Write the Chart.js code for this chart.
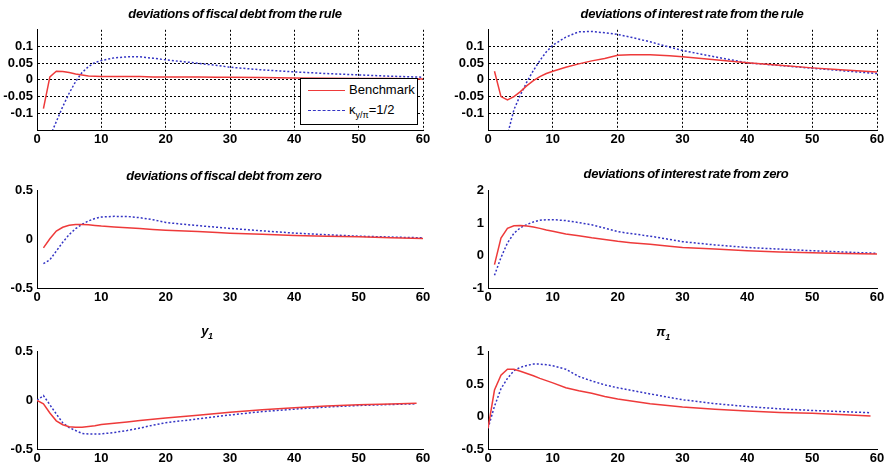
<!DOCTYPE html>
<html>
<head>
<meta charset="utf-8">
<script src="https://cdn.jsdelivr.net/npm/chart.js@4.4.1/dist/chart.umd.min.js"></script>
<style>
  body { margin: 0; background: #fff; }
  #page { position: relative; width: 887px; height: 471px; overflow: hidden; background: #fff; }
  canvas { position: absolute; }
  .title {
    position: absolute; transform: translate(-50%, -50%); white-space: nowrap;
    font-family: "Liberation Sans", Arial, sans-serif; font-size: 13px;
    font-weight: bold; font-style: italic; color: #000; letter-spacing: -0.3px; word-spacing: -1px;
  }
  .title sub { font-size: 9px; }
  #legend {
    position: absolute; left: 300px; top: 78px; width: 116px; height: 45px;
    background: #fff; border: 1px solid #000;
    font-family: "Liberation Sans", Arial, sans-serif; font-size: 13px; color: #000;
  }
  .row { position: absolute; left: 0; height: 16px; width: 116px; }
  .swatch { position: absolute; left: 7px; top: 8px; width: 37px; height: 0; }
  .row span.txt { position: absolute; left: 48px; top: 0px; }
  .row sub { font-size: 9px; }
</style>
</head>
<body>
<div id="page">
  <div class="title" style="left:235px; top:13px;">deviations of fiscal debt from the rule</div>
  <div class="title" style="left:692px; top:13px;">deviations of interest rate from the rule</div>
  <div class="title" style="left:224px; top:175px;">deviations of fiscal debt from zero</div>
  <div class="title" style="left:686px; top:173px;">deviations of interest rate from zero</div>
  <div class="title" style="left:207px; top:332px;">y<sub>1</sub></div>
  <div class="title" style="left:663px; top:333px;">π<sub>1</sub></div>
</div>
<script>
// periods (x axis)
const periodsTop = [1, 2, 3, 4, 5, 6, 7, 8, 9, 10, 12, 14, 16, 18, 20, 22, 25, 28, 30, 35, 40, 45, 50, 55, 60];
const periodsBottom = [0, 1, 2, 3, 4, 5, 6, 7, 8, 9, 10, 12, 14, 16, 18, 20, 25, 30, 35, 40, 45, 50, 55, 59];

// deviations of fiscal debt from the rule
const debtRuleBench = [-0.086, 0.009, 0.026, 0.025, 0.022, 0.018, 0.015, 0.012, 0.011, 0.010, 0.010, 0.010, 0.010, 0.009, 0.009, 0.009, 0.009, 0.008, 0.008, 0.007, 0.006, 0.005, 0.004, 0.004, 0.003];
const debtRuleKappa = [-0.22, -0.17, -0.125, -0.08, -0.04, -0.005, 0.022, 0.04, 0.052, 0.058, 0.066, 0.069, 0.069, 0.065, 0.06, 0.056, 0.05, 0.043, 0.038, 0.03, 0.024, 0.019, 0.015, 0.011, 0.008];

// deviations of interest rate from the rule
const rateRuleBench = [0.026, -0.05, -0.06, -0.05, -0.035, -0.017, -0.002, 0.01, 0.019, 0.026, 0.038, 0.048, 0.057, 0.064, 0.074, 0.075, 0.075, 0.072, 0.069, 0.06, 0.051, 0.044, 0.036, 0.03, 0.024];
const rateRuleKappa = [-0.33, -0.25, -0.165, -0.089, -0.045, -0.006, 0.028, 0.058, 0.084, 0.104, 0.128, 0.144, 0.145, 0.141, 0.136, 0.128, 0.114, 0.098, 0.088, 0.069, 0.051, 0.043, 0.035, 0.027, 0.019];

// deviations of fiscal debt from zero
const debtZeroBench = [-0.087, 0.007, 0.085, 0.125, 0.145, 0.153, 0.153, 0.15, 0.144, 0.137, 0.128, 0.12, 0.112, 0.103, 0.095, 0.089, 0.08, 0.07, 0.064, 0.052, 0.041, 0.033, 0.026, 0.018, 0.01];
const debtZeroKappa = [-0.25, -0.21, -0.12, -0.03, 0.05, 0.11, 0.155, 0.19, 0.215, 0.23, 0.237, 0.236, 0.223, 0.203, 0.175, 0.16, 0.142, 0.125, 0.113, 0.088, 0.065, 0.048, 0.033, 0.024, 0.016];

// deviations of interest rate from zero
const rateZeroBench = [-0.28, 0.54, 0.84, 0.92, 0.93, 0.91, 0.88, 0.84, 0.79, 0.75, 0.67, 0.61, 0.55, 0.5, 0.44, 0.4, 0.35, 0.29, 0.25, 0.2, 0.15, 0.11, 0.085, 0.065, 0.05];
const rateZeroKappa = [-0.61, -0.06, 0.39, 0.69, 0.86, 0.96, 1.04, 1.09, 1.11, 1.11, 1.08, 1.02, 0.95, 0.85, 0.74, 0.68, 0.6, 0.5, 0.43, 0.33, 0.25, 0.2, 0.15, 0.11, 0.07];

// y1
const outputBench = [0.0, -0.035, -0.13, -0.21, -0.25, -0.27, -0.275, -0.275, -0.268, -0.26, -0.247, -0.235, -0.222, -0.208, -0.194, -0.18, -0.152, -0.122, -0.097, -0.075, -0.058, -0.046, -0.037, -0.03];
const outputKappa = [0.0, 0.05, -0.045, -0.14, -0.23, -0.28, -0.31, -0.34, -0.345, -0.345, -0.345, -0.33, -0.31, -0.285, -0.255, -0.23, -0.19, -0.15, -0.115, -0.09, -0.068, -0.052, -0.042, -0.035];

// pi1
const inflationBench = [-0.18, 0.41, 0.64, 0.73, 0.73, 0.7, 0.665, 0.63, 0.59, 0.555, 0.52, 0.445, 0.4, 0.36, 0.31, 0.27, 0.2, 0.15, 0.115, 0.085, 0.065, 0.05, 0.03, 0.01];
const inflationKappa = [-0.18, 0.16, 0.43, 0.59, 0.71, 0.76, 0.79, 0.81, 0.81, 0.8, 0.785, 0.73, 0.62, 0.55, 0.49, 0.445, 0.35, 0.26, 0.2, 0.155, 0.12, 0.095, 0.075, 0.06];

// tick labels
const xTicks = [0, 10, 20, 30, 40, 50, 60];
const ticksRule = [-0.1, -0.05, 0, 0.05, 0.1];
const ticksDebtZero = [-0.5, 0, 0.5];
const ticksRateZero = [-1, 0, 1, 2];
const ticksOutput = [-0.5, 0, 0.5];
const ticksInflation = [-0.5, 0, 0.5, 1];

const RED = '#ee3a3a';
const BLUE = '#3434c4';
const FONT = { family: '"Liberation Sans", Arial, sans-serif', size: 13, weight: 'bold' };

const panels = [
  { area: [37, 27, 423, 130], xs: periodsTop, bench: debtRuleBench, kappa: debtRuleKappa, min: -0.15, max: 0.15, ticks: ticksRule, grid: true },
  { area: [488, 27, 877, 130], xs: periodsTop, bench: rateRuleBench, kappa: rateRuleKappa, min: -0.15, max: 0.15, ticks: ticksRule, grid: true },
  { area: [37, 188, 423, 288], xs: periodsTop, bench: debtZeroBench, kappa: debtZeroKappa, min: -0.5, max: 0.5, ticks: ticksDebtZero, grid: false },
  { area: [488, 188, 877, 288], xs: periodsTop, bench: rateZeroBench, kappa: rateZeroKappa, min: -1, max: 2, ticks: ticksRateZero, grid: false },
  { area: [37, 349, 423, 449], xs: periodsBottom, bench: outputBench, kappa: outputKappa, min: -0.5, max: 0.5, ticks: ticksOutput, grid: false },
  { area: [488, 349, 877, 449], xs: periodsBottom, bench: inflationBench, kappa: inflationKappa, min: -0.5, max: 1, ticks: ticksInflation, grid: false }
];

const YW = 37, XH = 20, PT = 9, PR = 10;
const page = document.querySelector('#page');

function toPoints(xs, ys) {
  return xs.map((x, i) => ({ x, y: ys[i] }));
}

function fmt(v) {
  return String(+v.toFixed(3));
}

panels.forEach(p => {
  const [l, t, r, b] = p.area;
  const canvas = document.createElement('canvas');
  const w = (r - l) + YW + PR;
  const h = (b - t) + PT + XH;
  canvas.width = w;
  canvas.height = h;
  canvas.style.left = (l - YW) + 'px';
  canvas.style.top = (t - PT) + 'px';
  canvas.style.width = w + 'px';
  canvas.style.height = h + 'px';
  page.insertBefore(canvas, page.firstChild);

  const gridOpts = p.grid
    ? { display: true, color: '#000', lineWidth: 1, drawTicks: false }
    : { display: false, drawTicks: false };
  const borderOpts = { display: true, color: '#000', width: 1, dash: p.grid ? [2, 2] : [] };

  new Chart(canvas, {
    type: 'line',
    data: {
      datasets: [
        { label: 'Benchmark', data: toPoints(p.xs, p.bench), borderColor: RED, borderWidth: 1.5, pointRadius: 0, tension: 0 },
        { label: 'κy/π=1/2', data: toPoints(p.xs, p.kappa), borderColor: BLUE, borderWidth: 1.5, borderDash: [2, 2], pointRadius: 0, tension: 0 }
      ]
    },
    options: {
      responsive: false,
      animation: false,
      layout: { padding: { top: PT, right: PR, left: 0, bottom: 0 } },
      plugins: { legend: { display: false }, tooltip: { enabled: false } },
      scales: {
        x: {
          type: 'linear', min: 0, max: 60,
          afterBuildTicks: s => { s.ticks = xTicks.map(v => ({ value: v })); },
          afterFit: s => { s.height = XH; },
          grid: gridOpts,
          border: borderOpts,
          ticks: { color: '#000', font: FONT, padding: 2, maxRotation: 0, autoSkip: false, callback: v => fmt(v) }
        },
        y: {
          type: 'linear', min: p.min, max: p.max,
          afterBuildTicks: s => { s.ticks = p.ticks.map(v => ({ value: v })); },
          afterFit: s => { s.width = YW; },
          grid: gridOpts,
          border: borderOpts,
          ticks: { color: '#000', font: FONT, padding: 4, autoSkip: false, callback: v => fmt(v) }
        }
      }
    }
  });
});

// legend of the first panel
const legend = document.createElement('div');
legend.id = 'legend';
legend.innerHTML = `
  <div class="row" style="top:3px;"><div class="swatch" style="border-top:1.5px solid ${RED};"></div><span class="txt">Benchmark</span></div>
  <div class="row" style="top:23px;"><div class="swatch" style="border-top:1.5px dashed ${BLUE};"></div><span class="txt">κ<sub>y/π</sub>=1/2</span></div>
`;
page.appendChild(legend);
</script>
</body>
</html>
